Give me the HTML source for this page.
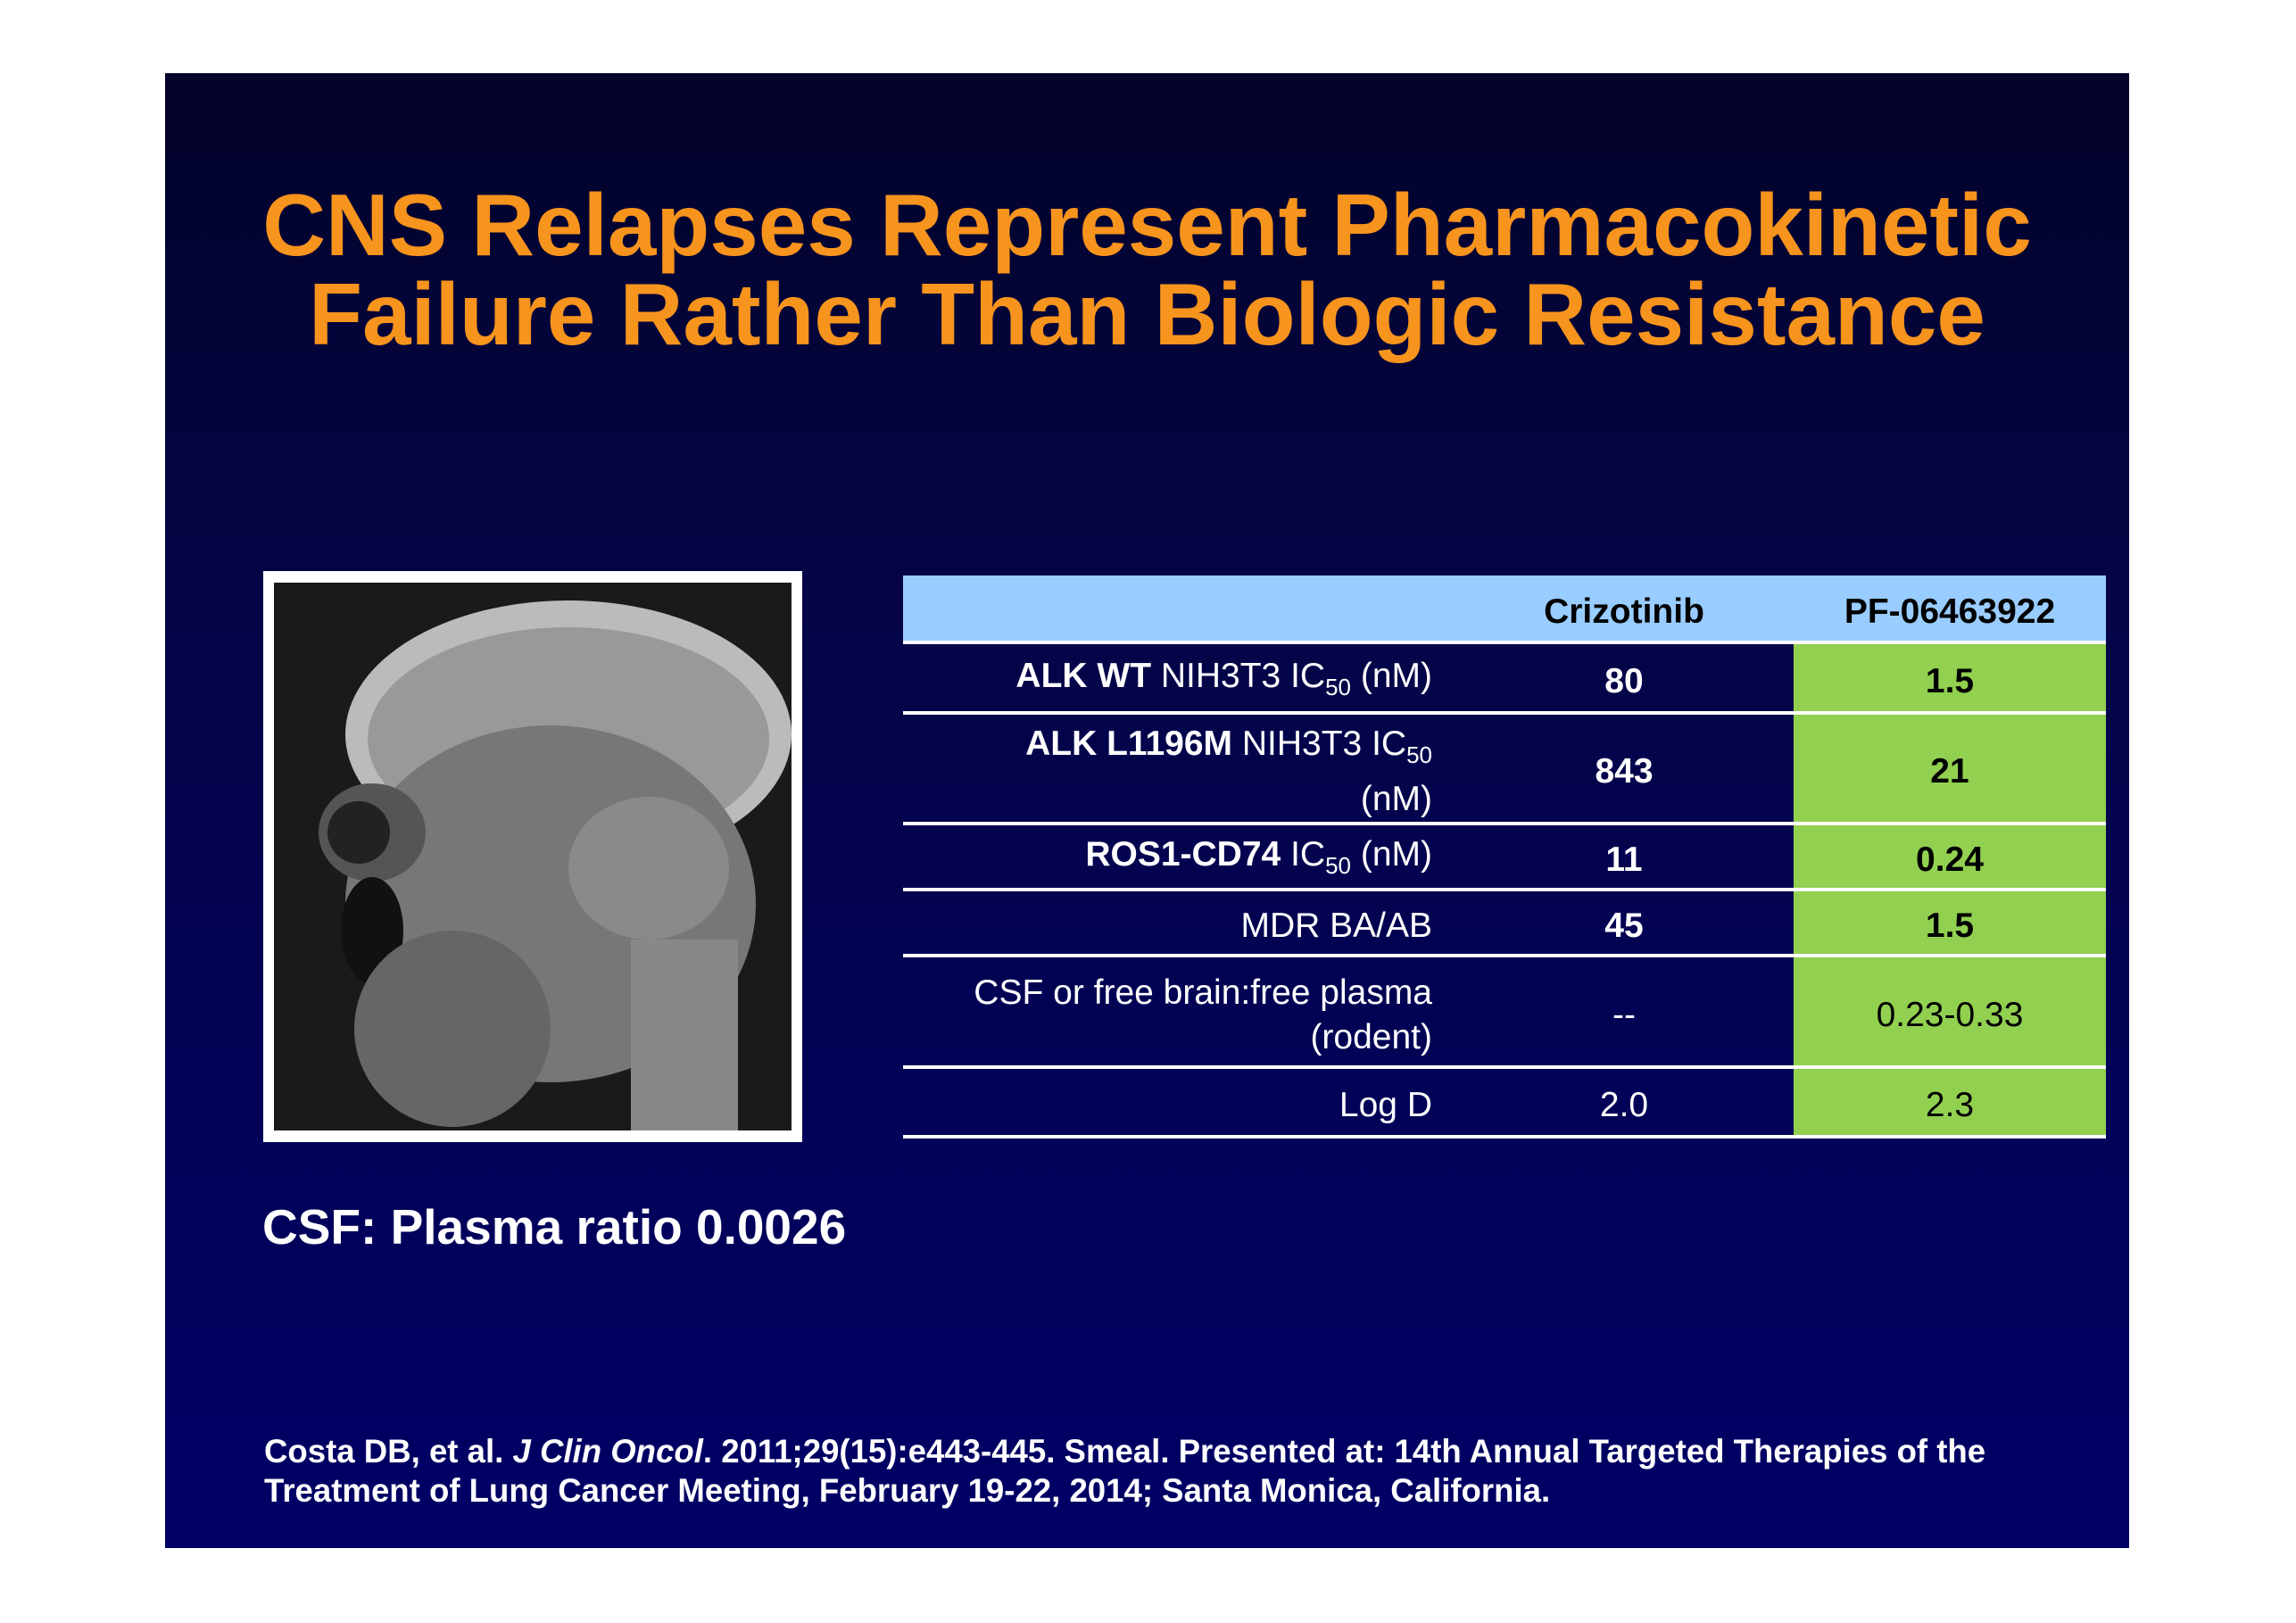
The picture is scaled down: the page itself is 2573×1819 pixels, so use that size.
<!DOCTYPE html>
<html><head><meta charset="utf-8"><style>
body{margin:0;width:2573px;height:1819px;background:#fff;position:relative;overflow:hidden;font-family:"Liberation Sans",sans-serif}
.slide{position:absolute;left:185px;top:82px;width:2201px;height:1653px;background:linear-gradient(#03032a 0%,#040446 35%,#000066 100%)}
.title{position:absolute;left:185px;top:202px;width:2201px;text-align:center;color:#f7941d;font-weight:bold;font-size:98px;line-height:100px}
.row{position:absolute;left:1012px;width:1348px;border-bottom:4px solid #fff;color:#fff;font-size:39px}
.c{position:absolute;top:0;bottom:0;display:flex;align-items:center;padding-top:8px;box-sizing:border-box}
.l{left:0;width:593px;justify-content:flex-end;text-align:right;line-height:50px}
.m{left:608px;width:400px;justify-content:center}
.r{left:998px;width:350px;justify-content:center;background:#92d050;color:#000}
b{font-weight:bold}
sub{font-size:26px}
</style></head><body>
<div class="slide"></div>
<div class="title">CNS Relapses Represent Pharmacokinetic<br>Failure Rather Than Biologic Resistance</div>
<div style="position:absolute;left:295px;top:640px;width:604px;height:640px;background:#fff">
<svg width="580" height="614" style="position:absolute;left:12px;top:13px;background:#1a1a1a">
<ellipse cx="330" cy="170" rx="250" ry="150" fill="#bbb"/>
<ellipse cx="330" cy="175" rx="225" ry="125" fill="#999"/>
<ellipse cx="310" cy="360" rx="230" ry="200" fill="#777"/>
<ellipse cx="110" cy="280" rx="60" ry="55" fill="#555"/>
<ellipse cx="95" cy="280" rx="35" ry="35" fill="#222"/>
<ellipse cx="110" cy="390" rx="35" ry="60" fill="#111"/>
<ellipse cx="420" cy="320" rx="90" ry="80" fill="#8a8a8a"/>
<rect x="400" y="400" width="120" height="214" fill="#888"/>
<ellipse cx="200" cy="500" rx="110" ry="110" fill="#666"/>
</svg></div>
<div class="row" style="top:645px;height:73px;background:#99ccff;color:#000;font-weight:bold">
<div class="c m">Crizotinib</div><div class="c r" style="background:#99ccff">PF-06463922</div></div>
<div class="row" style="top:722px;height:75px"><div class="c l"><span><b>ALK WT</b> NIH3T3 IC<sub>50</sub> (nM)</span></div><div class="c m"><b>80</b></div><div class="c r"><b>1.5</b></div></div>
<div class="row" style="top:801px;height:120px"><div class="c l"><span><b>ALK L1196M</b> NIH3T3 IC<sub>50</sub><br>(nM)</span></div><div class="c m"><b>843</b></div><div class="c r"><b>21</b></div></div>
<div class="row" style="top:925px;height:70px"><div class="c l"><span><b>ROS1-CD74</b> IC<sub>50</sub> (nM)</span></div><div class="c m"><b>11</b></div><div class="c r"><b>0.24</b></div></div>
<div class="row" style="top:999px;height:70px"><div class="c l">MDR BA/AB</div><div class="c m"><b>45</b></div><div class="c r"><b>1.5</b></div></div>
<div class="row" style="top:1073px;height:121px"><div class="c l"><span>CSF or free brain:free plasma<br>(rodent)</span></div><div class="c m">--</div><div class="c r">0.23-0.33</div></div>
<div class="row" style="top:1198px;height:74px"><div class="c l">Log D</div><div class="c m">2.0</div><div class="c r">2.3</div></div>
<div style="position:absolute;left:294px;top:1343px;color:#fff;font-weight:bold;font-size:55px">CSF: Plasma ratio 0.0026</div>
<div style="position:absolute;left:296px;top:1605px;color:#fff;font-weight:bold;font-size:36.6px;line-height:44px">Costa DB, et al. <i>J Clin Oncol</i>. 2011;29(15):e443-445. Smeal. Presented at: 14th Annual Targeted Therapies of the<br>Treatment of Lung Cancer Meeting, February 19-22, 2014; Santa Monica, California.</div>
</body></html>
